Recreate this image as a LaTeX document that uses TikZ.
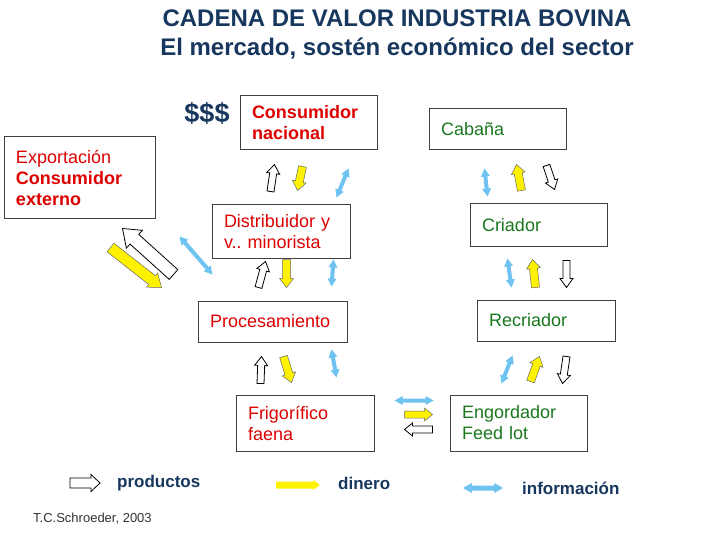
\documentclass[tikz,border=0pt]{standalone}
\usepackage{fontspec}
\setmainfont{Liberation Sans}
\usetikzlibrary{calc}
\frenchspacing

\definecolor{modra}{RGB}{23,55,94}
\definecolor{rdeca}{RGB}{222,0,0}
\definecolor{zelena}{RGB}{25,120,30}
\definecolor{svetlomodra}{RGB}{110,195,240}

% debela puscica: [slog]{od}{do}{pol debeline}{pol glave}{dolzina glave}
\newcommand{\puscica}[6][]{%
  \coordinate (pa) at (#2);
  \coordinate (pb) at (#3);
  \coordinate (pn) at ($(pb)!#6!(pa)$);
  \draw[#1] ($(pa)!#4!90:(pb)$) -- ($(pn)!#4!-90:(pa)$) -- ($(pn)!#5!-90:(pa)$) -- (pb)
    -- ($(pn)!#5!90:(pa)$) -- ($(pn)!#4!90:(pa)$) -- ($(pa)!#4!-90:(pb)$) -- cycle;
}
% dvojna puscica
\newcommand{\dvojna}[6][]{%
  \coordinate (pa) at (#2);
  \coordinate (pb) at (#3);
  \coordinate (na) at ($(pa)!#6!(pb)$);
  \coordinate (nb) at ($(pb)!#6!(pa)$);
  \draw[#1] (pa) -- ($(na)!#5!90:(pb)$) -- ($(na)!#4!90:(pb)$) -- ($(nb)!#4!-90:(pa)$)
    -- ($(nb)!#5!-90:(pa)$) -- (pb) -- ($(nb)!#5!90:(pa)$) -- ($(nb)!#4!90:(pa)$)
    -- ($(na)!#4!-90:(pb)$) -- ($(na)!#5!-90:(pb)$) -- cycle;
}

\begin{document}
\begin{tikzpicture}[x=1pt, y=-1pt,
  okvir/.style={draw=black!75, line width=1pt, fill=white, inner xsep=12pt,
    inner ysep=0pt, align=left, font=\fontsize{18}{21}\selectfont},
  prod/.style={draw=black, fill=white, line width=0.8pt},
  dinero/.style={draw=black!60, fill=yellow, line width=0.5pt},
  informacion/.style={draw=none, fill=svetlomodra},
  legenda/.style={inner sep=0pt, anchor=west, text=modra,
    font=\fontsize{17}{20}\selectfont\bfseries}]
  \useasboundingbox (0,0) rectangle (720,540);
  % naslov
  \node (naslov1) [anchor=base, text=modra, font=\fontsize{24}{29}\selectfont\bfseries]
    at (397,26.5) {CADENA DE VALOR INDUSTRIA BOVINA};
  \node (naslov2) [anchor=base, text=modra, font=\fontsize{24}{29}\selectfont\bfseries]
    at (397,55.5) {El mercado, sostén económico del sector};
  \node (denar) [text=modra, font=\fontsize{27}{30}\selectfont\bfseries] at (207,113) {\$\$\$};
  % okvirji
  \node (nacional) [okvir, text=rdeca, text width=113pt, minimum height=54pt]
    at (308.5,123) {\textbf{Consumidor}\\\textbf{nacional}};
  \node (expo) [okvir, text=rdeca, text width=127pt, minimum height=82pt]
    at (79.5,178) {Exportación\\\textbf{Consumidor}\\\textbf{externo}\\[-4pt]};
  \node (distrib) [okvir, text=rdeca, text width=114pt, minimum height=53pt]
    at (281,231.5) {Distribuidor y\\v.. minorista};
  \node (proces) [okvir, text=rdeca, text width=125pt, minimum height=41pt]
    at (272.5,321.5) {Procesamiento};
  \node (frigo) [okvir, text=rdeca, text width=114pt, minimum height=56pt]
    at (305,423) {Frigorífico\\faena};
  \node (cabana) [okvir, text=zelena, text width=113pt, minimum height=41pt]
    at (497.5,129.5) {Cabaña\\[-4pt]};
  \node (criador) [okvir, text=zelena, text width=113pt, minimum height=42pt]
    at (538.5,225) {Criador\\[-4pt]};
  \node (recriador) [okvir, text=zelena, text width=114pt, minimum height=41pt]
    at (546,320.5) {Recriador\\[-4pt]};
  \node (engorda) [okvir, text=zelena, text width=113pt, minimum height=56pt]
    at (518.5,423) {Engordador\\Feed lot};
  % puscice: nacional - distribuidor
  \puscica[prod]{$(nacional.south west)+(31,41)$}{$(nacional.south west)+(35,14)$}{3.5pt}{6.5pt}{9pt}
  \puscica[dinero]{$(nacional.south west)+(63,16)$}{$(nacional.south west)+(58,40)$}{4pt}{7pt}{9pt}
  \dvojna[informacion]{$(nacional.south west)+(97,47)$}{$(nacional.south west)+(109,18)$}{2pt}{4.5pt}{8pt}
  % distribuidor - procesamiento
  \puscica[prod]{$(distrib.south west)+(47,29)$}{$(distrib.south west)+(54,3)$}{3.5pt}{6.5pt}{9pt}
  \puscica[dinero]{$(distrib.south west)+(75,1)$}{$(distrib.south west)+(75,29)$}{4pt}{7pt}{9pt}
  \dvojna[informacion]{$(distrib.south west)+(122,1)$}{$(distrib.south west)+(120,28)$}{2pt}{4.5pt}{8pt}
  % procesamiento - frigorifico
  \puscica[prod]{$(proces.south west)+(63,41)$}{$(proces.south west)+(64,14)$}{3.5pt}{6.5pt}{9pt}
  \puscica[dinero]{$(proces.south west)+(86,14)$}{$(proces.south west)+(94,40)$}{4pt}{7pt}{9pt}
  \dvojna[informacion]{$(proces.south west)+(134,7)$}{$(proces.south west)+(139,35)$}{2pt}{4.5pt}{8pt}
  % frigorifico - engordador
  \dvojna[informacion]{$(frigo.north east)+(20,6)$}{$(frigo.north east)+(59,6)$}{2pt}{4.5pt}{8pt}
  \puscica[dinero]{$(frigo.north east)+(30,20)$}{$(frigo.north east)+(58,20)$}{3.5pt}{6.5pt}{8pt}
  \puscica[prod]{$(frigo.north east)+(58,35)$}{$(frigo.north east)+(30,35)$}{3.5pt}{6.5pt}{8pt}
  % engordador - recriador
  \dvojna[informacion]{$(recriador.south west)+(25,42)$}{$(recriador.south west)+(36,14)$}{2pt}{4.5pt}{8pt}
  \puscica[dinero]{$(recriador.south west)+(54,40)$}{$(recriador.south west)+(63,15)$}{4pt}{7pt}{9pt}
  \puscica[prod]{$(recriador.south west)+(90,15)$}{$(recriador.south west)+(86,42)$}{3.5pt}{6.5pt}{9pt}
  % recriador - criador
  \dvojna[informacion]{$(criador.south west)+(38,12)$}{$(criador.south west)+(42,41)$}{2pt}{4.5pt}{8pt}
  \puscica[dinero]{$(criador.south west)+(66,41)$}{$(criador.south west)+(63,13)$}{4pt}{7pt}{9pt}
  \puscica[prod]{$(criador.south west)+(97,14)$}{$(criador.south west)+(97,41)$}{3.5pt}{6.5pt}{9pt}
  % criador - cabana
  \dvojna[informacion]{$(cabana.south west)+(56,18)$}{$(cabana.south west)+(59,46)$}{2pt}{4.5pt}{8pt}
  \puscica[dinero]{$(cabana.south west)+(93,40)$}{$(cabana.south west)+(88,14)$}{4pt}{7pt}{9pt}
  \puscica[prod]{$(cabana.south west)+(118,15)$}{$(cabana.south west)+(126,39)$}{3.5pt}{6.5pt}{9pt}
  % exportacion
  \puscica[prod]{$(expo.south east)+(18,55)$}{$(expo.south east)+(-33,9)$}{6.5pt}{12pt}{16pt}
  \puscica[dinero]{$(expo.south east)+(-45,28)$}{$(expo.south east)+(6,68)$}{5.5pt}{9pt}{12pt}
  \dvojna[informacion]{$(expo.south east)+(24,17)$}{$(expo.south east)+(57,55)$}{2pt}{4.5pt}{8pt}
  % legenda
  \node (productos) [legenda] at (117,483) {productos};
  \node (dinero) [legenda] at (338,483) {dinero};
  \node (informac) [legenda] at (522,488) {información};
  \node (autor) [inner sep=0pt, anchor=west, text=black!80, font=\fontsize{13}{15}\selectfont]
    at (33,519) {T.C.Schroeder, 2003};
  \puscica[prod]{$(productos.west)+(-47,0)$}{$(productos.west)+(-17,0)$}{5pt}{8.5pt}{9pt}
  \puscica[draw=none, fill=yellow]{$(dinero.west)+(-62,2)$}{$(dinero.west)+(-18,2)$}{3.5pt}{5pt}{7pt}
  \dvojna[informacion]{$(informac.west)+(-59,0)$}{$(informac.west)+(-19,0)$}{2.5pt}{5pt}{9pt}
\end{tikzpicture}
\end{document}
